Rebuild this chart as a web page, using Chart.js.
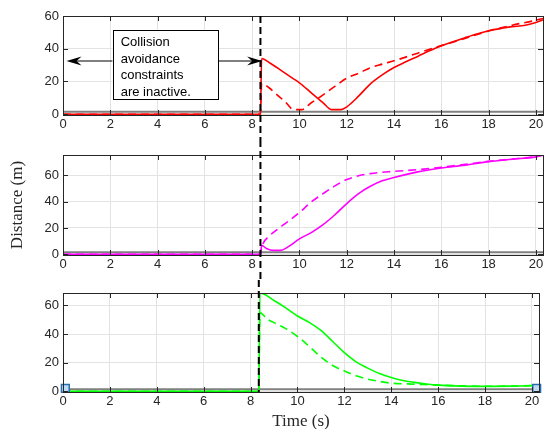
<!DOCTYPE html>
<html>
<head>
<meta charset="utf-8">
<script src="https://cdn.jsdelivr.net/npm/chart.js@4/dist/chart.umd.min.js"></script>
<style>
html, body { margin: 0; padding: 0; background: #fff; overflow: hidden; }
.panel { position: absolute; left: 0; width: 546px; }
</style>
</head>
<body>
<div class="panel" style="top:0px;height:140px"><canvas id="chart1"></canvas></div>
<div class="panel" style="top:140px;height:140px"><canvas id="chart2"></canvas></div>
<div class="panel" style="top:280px;height:152px"><canvas id="chart3"></canvas></div>
<script>
// time when the constraints switch on (s)
var tSwitch = 8.35;
var xMax = 20.3;
var yMin = -0.5;
var yMaxes = [60, 75.3, 68.7];
var safeDist = 1.5;

// top panel (red)
var tRedSolid = [0, 8.35, 8.4, 8.75, 9.25, 9.75, 10, 10.5, 11, 11.35, 11.75, 12, 12.5, 13, 13.5, 14, 14.5, 15, 15.5, 16, 16.5, 17, 17.5, 18, 18.5, 19, 19.5, 20, 20.3];
var dRedSolid = [0, 0, 34, 31.3, 26.5, 21.6, 19.2, 13, 6.9, 2.8, 2.8, 4.5, 11, 18.5, 24, 28.5, 32, 35.3, 38.7, 41.8, 44.3, 46.7, 49, 51, 52.3, 53.5, 54.2, 56, 57.6];
var tRedDash = [0, 8.35, 8.4, 8.7, 9, 9.4, 9.75, 10.1, 10.5, 10.8, 11.5, 12, 12.5, 13, 13.5, 14, 15, 16, 17, 18, 19, 20, 20.3];
var dRedDash = [0, 0, 19, 16.3, 12.5, 7.5, 2.8, 2.8, 7, 9.8, 17, 22, 25, 28.4, 30.6, 32.6, 37.3, 41.9, 46.3, 50.8, 54.4, 57.4, 58.5];

// middle panel (magenta)
var tMagSolid = [0, 8.35, 8.4, 8.6, 8.9, 9.2, 9.5, 10, 10.5, 11, 11.5, 12, 12.5, 13, 13.5, 14, 15, 16, 17, 18, 19, 20, 20.3];
var dMagSolid = [0, 0, 6.8, 4.5, 3, 3, 5.5, 11.7, 16.5, 22.5, 30, 38.5, 46, 51.6, 55.7, 58.2, 62.5, 65.5, 67.6, 70.3, 72.1, 73.9, 75.2];
var tMagDash = [0, 8.35, 8.4, 8.75, 9, 9.5, 10, 10.5, 11, 11.5, 12, 12.5, 13, 14, 15, 16, 17, 18, 19, 20, 20.3];
var dMagDash = [0, 0, 5, 14.2, 18, 24.8, 31.7, 39.7, 46, 51.9, 56.7, 59.5, 61.2, 62.9, 64.2, 66, 68.2, 70.5, 72.2, 74.2, 75.3];

// bottom panel (green)
var tGreenSolid = [0, 8.35, 8.4, 9, 9.5, 10, 10.5, 11, 11.5, 12, 12.5, 13, 13.5, 14, 14.5, 15, 15.5, 16, 17, 18, 19, 20, 20.3];
var dGreenSolid = [0, 0, 68.7, 63.5, 58.3, 52.6, 48.2, 42.5, 34.8, 27, 20.6, 16.2, 12.4, 9.6, 7.5, 6.2, 5.1, 4.3, 3.6, 3.4, 3.6, 4, 4.3];
var tGreenDash = [0, 8.35, 8.4, 8.7, 9, 9.5, 10, 10.5, 11, 11.5, 12, 12.5, 13, 13.5, 14, 15, 16, 17, 18, 19, 20, 20.3];
var dGreenDash = [0, 0, 55, 50.5, 48, 43.8, 38.3, 31.4, 24, 18, 14.2, 10.8, 8.5, 6.9, 5.7, 5, 4.3, 3.8, 3.5, 3.6, 4, 4.3];

// data tip markers
var tMarks = [0.1, 20.2];
var dMarks = [2, 2];

var noteLines = ['Collision', 'avoidance', 'constraints', 'are inactive.'];

var sans = "'Liberation Sans', Arial, Helvetica, sans-serif";
var serif = "'Liberation Serif', 'Times New Roman', serif";
var ink = '#262626';

function series(ts, ds) {
    return ts.map(function(t, i){ return {x: t, y: ds[i]}; });
}

function solid(ts, ds, color) {
    return {data: series(ts, ds), borderColor: color, borderWidth: 1.6, fill: false};
}

function dashed(ts, ds, color) {
    return {data: series(ts, ds), borderColor: color, borderWidth: 1.6, borderDash: [8, 5], fill: false};
}

function safeLine() {
    return {data: [{x: 0, y: safeDist}, {x: xMax, y: safeDist}], borderColor: '#808080', borderWidth: 2, fill: false};
}

// box, inward ticks and the switch line
function framePlugin(lineTop, lineBottom) {
    return {
        id: 'frame',
        afterDraw: function(chart) {
            var ctx = chart.ctx, a = chart.chartArea;
            var xs = chart.scales.x, ys = chart.scales.y;
            ctx.save();
            ctx.strokeStyle = ink;
            ctx.lineWidth = 1;
            ctx.beginPath();
            xs.ticks.forEach(function(t){
                var px = Math.round(xs.getPixelForValue(t.value)) + 0.5;
                ctx.moveTo(px, a.bottom); ctx.lineTo(px, a.bottom - 5);
                ctx.moveTo(px, a.top); ctx.lineTo(px, a.top + 5);
            });
            ys.ticks.forEach(function(t){
                var py = Math.round(ys.getPixelForValue(t.value)) + 0.5;
                ctx.moveTo(a.left, py); ctx.lineTo(a.left + 5, py);
                ctx.moveTo(a.right, py); ctx.lineTo(a.right - 5, py);
            });
            ctx.stroke();
            ctx.strokeRect(Math.round(a.left) + 0.5, Math.round(a.top) + 0.5,
                Math.round(a.right - a.left), Math.round(a.bottom - a.top));

            var sx = xs.getPixelForValue(tSwitch);
            ctx.setLineDash([7, 4]);
            ctx.lineWidth = 2;
            ctx.strokeStyle = '#000';
            ctx.beginPath();
            ctx.moveTo(sx, lineTop(chart));
            ctx.lineTo(sx, lineBottom(chart));
            ctx.stroke();
            ctx.restore();
        }
    };
}

// text box with the two arrows (top panel)
var notePlugin = {
    id: 'note',
    afterDraw: function(chart) {
        var ctx = chart.ctx;
        var xs = chart.scales.x, ys = chart.scales.y;
        var bx0 = xs.getPixelForValue(2.1), bx1 = xs.getPixelForValue(6.55);
        var by0 = ys.getPixelForValue(51.5), by1 = ys.getPixelForValue(9.3);
        var ay = ys.getPixelForValue(32.5);
        var tipL = xs.getPixelForValue(0.15), tipR = xs.getPixelForValue(8.42);
        ctx.save();
        ctx.strokeStyle = '#000';
        ctx.fillStyle = '#000';
        ctx.lineWidth = 1;
        ctx.beginPath();
        ctx.moveTo(bx0, ay); ctx.lineTo(tipL + 10, ay);
        ctx.moveTo(bx1, ay); ctx.lineTo(tipR - 10, ay);
        ctx.stroke();
        [[tipL, 1], [tipR, -1]].forEach(function(h){
            ctx.beginPath();
            ctx.moveTo(h[0], ay);
            ctx.lineTo(h[0] + 15 * h[1], ay - 4.5);
            ctx.lineTo(h[0] + 10 * h[1], ay);
            ctx.lineTo(h[0] + 15 * h[1], ay + 4.5);
            ctx.closePath();
            ctx.fill();
        });
        ctx.fillStyle = '#fff';
        ctx.fillRect(bx0, by0, bx1 - bx0, by1 - by0);
        ctx.strokeRect(Math.round(bx0) + 0.5, Math.round(by0) + 0.5, Math.round(bx1 - bx0), Math.round(by1 - by0));
        ctx.fillStyle = '#000';
        ctx.font = '13px ' + sans;
        ctx.textBaseline = 'middle';
        ctx.textAlign = 'left';
        noteLines.forEach(function(s, i){
            ctx.fillText(s, bx0 + 8, by0 + 13 + i * 16.5);
        });
        ctx.restore();
    }
};

function panelOptions(yMaxVal, padTop, xHeight, yTitle, xTitle) {
    return {
        responsive: true,
        maintainAspectRatio: false,
        animation: false,
        layout: {padding: {top: padTop, right: 3, left: 0, bottom: 0}},
        plugins: {legend: {display: false}, tooltip: {enabled: false}},
        elements: {point: {radius: 0}, line: {cubicInterpolationMode: 'monotone'}},
        scales: {
            x: {
                type: 'linear', min: 0, max: xMax,
                afterFit: function(s){ s.height = xHeight; },
                ticks: {stepSize: 2, includeBounds: false, autoSkip: false, maxRotation: 0, padding: 2,
                        color: ink, font: {family: sans, size: 13}},
                grid: {color: '#e3e3e3', drawTicks: false},
                border: {display: false},
                title: {display: xTitle, text: 'Time (s)', color: ink, font: {family: serif, size: 17}, padding: 0}
            },
            y: {
                type: 'linear', min: yMin, max: yMaxVal,
                afterFit: function(s){ s.width = 63; },
                ticks: {stepSize: 20, includeBounds: false, padding: 4, color: ink, font: {family: sans, size: 13}},
                grid: {color: '#e3e3e3', drawTicks: false},
                border: {display: false},
                title: {display: yTitle, text: 'Distance (m)', color: ink, font: {family: serif, size: 17}, padding: {top: 7, bottom: 0}}
            }
        }
    };
}

document.addEventListener('DOMContentLoaded', function(){
    var chart1 = new Chart(document.getElementById('chart1').getContext('2d'), {
        type: 'line',
        data: {datasets: [
            solid(tRedSolid, dRedSolid, '#ff0000'),
            dashed(tRedDash, dRedDash, '#ff0000'),
            safeLine()
        ]},
        options: panelOptions(yMaxes[0], 16, 25, false, false),
        plugins: [framePlugin(function(c){ return c.chartArea.top; }, function(c){ return c.height; }), notePlugin]
    });

    var chart2 = new Chart(document.getElementById('chart2').getContext('2d'), {
        type: 'line',
        data: {datasets: [
            solid(tMagSolid, dMagSolid, '#ff00ff'),
            dashed(tMagDash, dMagDash, '#ff00ff'),
            safeLine()
        ]},
        options: panelOptions(yMaxes[1], 15, 25, true, false),
        plugins: [framePlugin(function(c){ return 0; }, function(c){ return c.height; })]
    });

    var chart3 = new Chart(document.getElementById('chart3').getContext('2d'), {
        type: 'line',
        data: {datasets: [
            {data: series(tMarks, dMarks), showLine: false, pointStyle: 'rect', pointRadius: 5.5,
             backgroundColor: '#bcdcf4', borderColor: '#2b6cb0', borderWidth: 1.5, clip: false},
            solid(tGreenSolid, dGreenSolid, '#00ff00'),
            dashed(tGreenDash, dGreenDash, '#00ff00'),
            safeLine()
        ]},
        options: panelOptions(yMaxes[2], 13, 40, false, true),
        plugins: [framePlugin(function(c){ return 0; }, function(c){ return c.chartArea.bottom; })]
    });
});
</script>
</body>
</html>
